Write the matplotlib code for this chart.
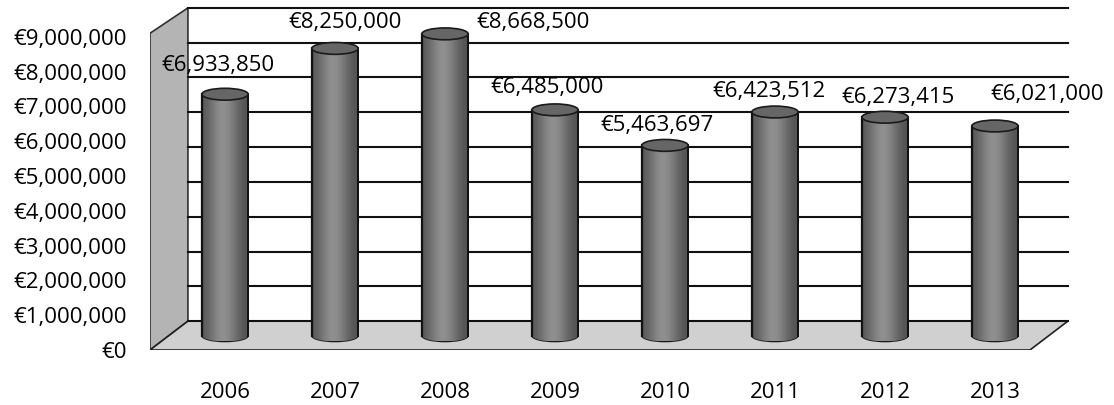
import numpy as np
import matplotlib
matplotlib.use('Agg')
import matplotlib.pyplot as plt
from matplotlib.patches import Ellipse, Polygon

# ---- data ----
years = ['2006', '2007', '2008', '2009', '2010', '2011', '2012', '2013']
values = [6933850, 8250000, 8668500, 6485000, 5463697, 6423512, 6273415, 6021000]
tick_values = [0, 1000000, 2000000, 3000000, 4000000, 5000000,
               6000000, 7000000, 8000000, 9000000]

# ---- layout / style ----
label_offsets_px = [(-7, 29), (10, 26), (88, 11), (-8, 22), (-8, 20),
                    (-6, 20), (13, 20), (52, 31)]
FONT = ['Open Sans', 'DejaVu Sans']
FS = 16
BAR_W = 0.42
ELL_H = 340000          # ellipse height in data units
DEPTH_X = 0.345         # 3D depth offset (x data units)
DEPTH_Y = 830000        # 3D depth offset (y data units)
X_LEFT, X_RIGHT = -0.682, 7.682
Y_BOT, Y_TOP = -0.4017e6, 9.641e6

plt.rcParams['font.family'] = FONT

fig = plt.figure(figsize=(11.14, 4.05), dpi=100)
ax = fig.add_axes([150 / 1114, 55 / 405, 920 / 1114, 350 / 405])
ax.set_facecolor('none')

front = 0 - DEPTH_Y / 2
back = 0 + DEPTH_Y / 2
x_front_right = X_RIGHT - 0.364
wall_top = max(tick_values)

# side wall
side = Polygon([(X_LEFT, front), (X_LEFT + DEPTH_X, back),
                (X_LEFT + DEPTH_X, wall_top + DEPTH_Y / 2),
                (X_LEFT, wall_top - DEPTH_Y / 2 + 0.1e6)],
               closed=True, facecolor='#b4b4b4', edgecolor='#303030',
               linewidth=1.2, zorder=1)
ax.add_patch(side)

# floor
floor = Polygon([(X_LEFT, front), (x_front_right, front),
                 (x_front_right + DEPTH_X, back), (X_LEFT + DEPTH_X, back)],
                closed=True, facecolor='#d0d0d0', edgecolor='#202020',
                linewidth=1.2, zorder=1)
ax.add_patch(floor)

# back-wall gridlines
for v in tick_values:
    ax.plot([X_LEFT + DEPTH_X, x_front_right + DEPTH_X],
            [v + DEPTH_Y / 2, v + DEPTH_Y / 2],
            color='#111111', linewidth=1.5, zorder=2)

# cylinders
x = np.arange(len(years))
bars = ax.bar(x, values, width=BAR_W, color='#6e6e6e', linewidth=0, zorder=4)

grad = np.linspace(0, 1, 64)
shade = 0.30 + 0.26 * np.exp(-((grad - 0.45) / 0.34) ** 2)
img = np.tile(shade, (2, 1))

for xi, v, b in zip(x, values, bars):
    l, r = xi - BAR_W / 2, xi + BAR_W / 2
    # bottom ellipse
    be = Ellipse((xi, 0), BAR_W, ELL_H, facecolor='#5e5e5e',
                 edgecolor='#1a1a1a', linewidth=1.2, zorder=3)
    ax.add_patch(be)
    im = ax.imshow(img, extent=(l, r, 0, v), aspect='auto', cmap='gray',
                   vmin=0, vmax=1, zorder=4.5, interpolation='bilinear')
    im.set_clip_path(b)
    im2 = ax.imshow(img, extent=(l, r, -ELL_H / 2, 0), aspect='auto',
                    cmap='gray', vmin=0, vmax=1, zorder=3.5,
                    interpolation='bilinear')
    im2.set_clip_path(be)
    ax.plot([l, l], [0, v], color='#111111', linewidth=1.6, zorder=5)
    ax.plot([r, r], [0, v], color='#111111', linewidth=1.4, zorder=5)
    te = Ellipse((xi, v), BAR_W, ELL_H, facecolor='#666666',
                 edgecolor='#1a1a1a', linewidth=1.2, zorder=6)
    ax.add_patch(te)

# value labels
for xi, v, (dx, dy) in zip(x, values, label_offsets_px):
    ax.annotate('€{:,}'.format(v), xy=(xi, v), xytext=(dx, dy),
                textcoords='offset pixels', ha='center', va='center',
                fontsize=FS, color='black', zorder=8)

ax.set_xlim(X_LEFT, X_RIGHT)
ax.set_ylim(Y_BOT, Y_TOP)

ax.set_yticks([v - DEPTH_Y / 2 for v in tick_values])
ax.set_yticklabels(['€{:,}'.format(v) for v in tick_values])
ax.set_xticks(x)
ax.set_xticklabels(years)
ax.tick_params(axis='y', length=0, pad=16.5, labelsize=FS)
ax.tick_params(axis='x', length=0, pad=23, labelsize=FS)
for s in ax.spines.values():
    s.set_visible(False)

fig.savefig('out.png', dpi=100)
